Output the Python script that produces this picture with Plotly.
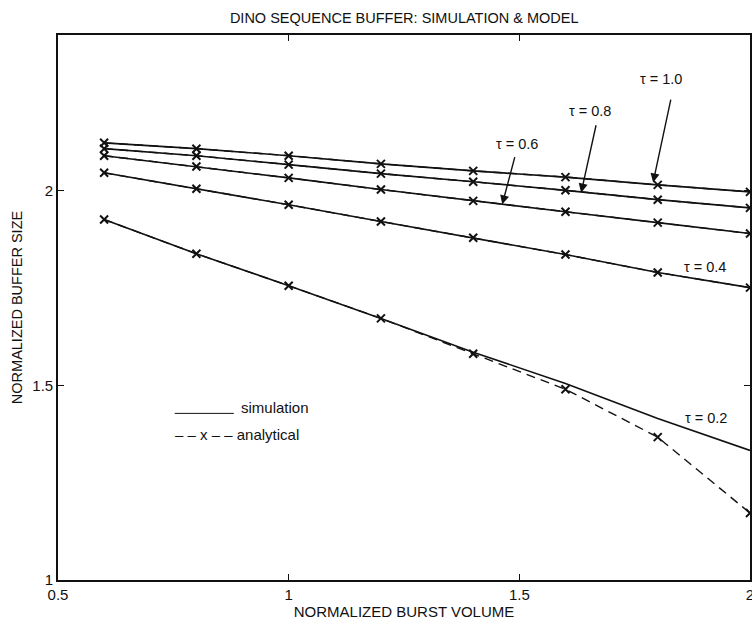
import plotly.graph_objects as go

# Normalized burst volume (x) and normalized buffer size (y) per tau
burst_volume = [0.6, 0.8, 1.0, 1.2, 1.4, 1.6, 1.8, 2.0]

tau_labels = ["τ = 1.0", "τ = 0.8", "τ = 0.6", "τ = 0.4", "τ = 0.2"]

sim_tau_10 = [2.123, 2.108, 2.090, 2.069, 2.051, 2.035, 2.015, 1.997]
sim_tau_08 = [2.108, 2.090, 2.067, 2.044, 2.023, 2.001, 1.977, 1.956]
sim_tau_06 = [2.090, 2.062, 2.033, 2.003, 1.974, 1.946, 1.918, 1.890]
sim_tau_04 = [2.046, 2.005, 1.964, 1.921, 1.879, 1.836, 1.790, 1.751]
sim_tau_02 = [1.926, 1.838, 1.756, 1.672, 1.585, 1.505, 1.415, 1.333]

ana_tau_10 = [2.123, 2.108, 2.090, 2.069, 2.051, 2.035, 2.015, 1.997]
ana_tau_08 = [2.108, 2.090, 2.067, 2.044, 2.023, 2.001, 1.977, 1.956]
ana_tau_06 = [2.090, 2.062, 2.033, 2.003, 1.974, 1.946, 1.918, 1.890]
ana_tau_04 = [2.046, 2.005, 1.964, 1.921, 1.879, 1.836, 1.790, 1.751]
ana_tau_02 = [1.926, 1.838, 1.756, 1.672, 1.581, 1.490, 1.367, 1.172]

x_ticks = [0.5, 1, 1.5, 2]
x_tick_text = ["0.5", "1", "1.5", "2"]
y_ticks = [1, 1.5, 2]
y_tick_text = ["1", "1.5", "2"]

FONT = "Liberation Sans, Arial, Helvetica, sans-serif"
INK = "#111111"

fig = go.Figure()

sims = [sim_tau_10, sim_tau_08, sim_tau_06, sim_tau_04, sim_tau_02]
anas = [ana_tau_10, ana_tau_08, ana_tau_06, ana_tau_04, ana_tau_02]

for lab, ys in zip(tau_labels, sims):
    fig.add_trace(go.Scatter(
        x=burst_volume, y=ys, mode="lines", name=lab + " simulation",
        line=dict(color=INK, width=1.6), showlegend=False, hoverinfo="skip"))

for lab, ys in zip(tau_labels, anas):
    fig.add_trace(go.Scatter(
        x=burst_volume, y=ys, mode="lines+markers", name=lab + " analytical",
        line=dict(color=INK, width=1.4, dash="9px,6px"),
        marker=dict(symbol="x-thin", size=8, line=dict(color=INK, width=2)),
        showlegend=False, cliponaxis=False))

# Curve labels (text) and pointer arrows
label_text = [
    dict(text="τ = 1.0", x=1.807, y=2.287),
    dict(text="τ = 0.8", x=1.654, y=2.205),
    dict(text="τ = 0.6", x=1.494, y=2.121),
    dict(text="τ = 0.4", x=1.903, y=1.803),
    dict(text="τ = 0.2", x=1.905, y=1.415),
]
arrows = [
    dict(x=1.790, y=2.021, ax=1.829, ay=2.238),
    dict(x=1.634, y=1.995, ax=1.667, ay=2.172),
    dict(x=1.463, y=1.965, ax=1.491, ay=2.090),
]

annotations = []
for t in label_text:
    annotations.append(dict(x=t["x"], y=t["y"], xref="x", yref="y", text=t["text"],
                            showarrow=False, font=dict(family=FONT, size=14.5, color=INK)))
for a in arrows:
    annotations.append(dict(x=a["x"], y=a["y"], ax=a["ax"], ay=a["ay"],
                            xref="x", yref="y", axref="x", ayref="y", text="",
                            showarrow=True, arrowhead=2, arrowsize=1.3, arrowwidth=1.4,
                            arrowcolor=INK, standoff=0, startstandoff=0))

# Hand-drawn key inside the plot
annotations.append(dict(x=0.892, y=1.443, xref="x", yref="y", text="simulation",
                        xanchor="left", showarrow=False,
                        font=dict(family=FONT, size=15, color=INK)))
annotations.append(dict(x=0.750, y=1.374, xref="x", yref="y",
                        text="– – x – – analytical",
                        xanchor="left", showarrow=False,
                        font=dict(family=FONT, size=15, color=INK)))

shapes = [dict(type="line", xref="x", yref="y", x0=0.753, x1=0.881, y0=1.428, y1=1.428,
               line=dict(color=INK, width=1))]

fig.update_layout(
    width=752, height=621,
    margin=dict(l=58, r=2, t=35, b=41),
    paper_bgcolor="white", plot_bgcolor="white",
    title=dict(text="DINO SEQUENCE BUFFER: SIMULATION & MODEL",
               x=0.5375, xanchor="center", y=0.971, yanchor="middle",
               font=dict(family=FONT, size=14.5, color=INK)),
    font=dict(family=FONT, size=14, color=INK),
    annotations=annotations,
    shapes=shapes,
)

fig.update_xaxes(
    range=[0.5, 2], tickvals=x_ticks, ticktext=x_tick_text,
    ticks="inside", ticklen=6, tickwidth=1.2, tickcolor=INK,
    showline=True, linecolor=INK, linewidth=1.6, mirror="ticks",
    showgrid=False, zeroline=False, automargin=False,
    ticklabeloverflow="allow",
    tickfont=dict(family=FONT, size=15, color=INK),
    title=dict(text="NORMALIZED BURST VOLUME", standoff=2,
               font=dict(family=FONT, size=15, color=INK)),
)
fig.update_yaxes(
    range=[1, 2.4], tickvals=y_ticks, ticktext=y_tick_text,
    ticks="inside", ticklen=6, tickwidth=1.2, tickcolor=INK,
    showline=True, linecolor=INK, linewidth=1.6, mirror="ticks",
    showgrid=False, zeroline=False, automargin=False,
    ticklabeloverflow="allow",
    tickfont=dict(family=FONT, size=15, color=INK),
    title=dict(text="NORMALIZED BUFFER SIZE", standoff=6,
               font=dict(family=FONT, size=14.5, color=INK)),
)

fig.write_html("out.html")
